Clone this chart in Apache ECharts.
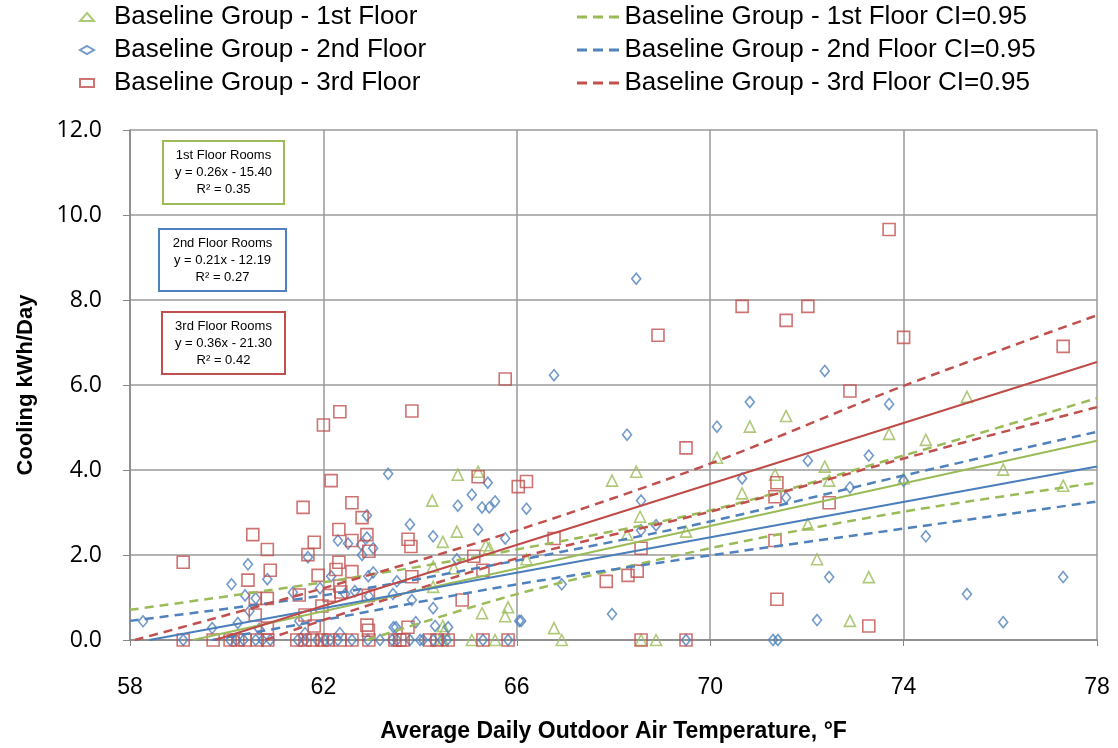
<!DOCTYPE html>
<html>
<head>
<meta charset="utf-8">
<title>Cooling vs outdoor temperature</title>
<script src="https://cdn.jsdelivr.net/npm/echarts@6/dist/echarts.min.js"></script>
<style>
  html, body { margin: 0; padding: 0; background: #fff; }
  #chart { width: 1118px; height: 748px; }
</style>
</head>
<body>
<div id="chart"></div>
<script>
// 1st floor points (temperature F, kWh/day)
var floor1Temp = [64.25, 64.78, 65.2, 64.76, 64.47, 65.36, 65.43, 64.27, 64.7, 64.27, 65.82, 65.28, 65.76, 64.47, 64.5,
  64.47, 65.07, 65.55, 67.97, 68.47, 68.55, 68.28, 69.5, 66.2, 66.77, 66.93, 68.57, 68.88,
  70.14, 70.82, 71.57, 70.66, 71.34, 72.37, 72.46, 72.02, 72.21, 73.28, 72.89, 73.7,
  75.31, 74.46, 74.0, 76.06, 77.3];
var floor1Kwh = [3.28, 3.89, 3.96, 2.55, 2.31, 2.23, 2.16, 1.73, 1.69, 1.25, 0.77, 0.63, 0.56, 0.33, 0.23,
  0, 0, 0, 3.75, 3.96, 2.9, 2.48, 2.55, 1.9, 0.28, 0, 0, 0,
  4.29, 5.02, 5.27, 3.45, 3.89, 4.08, 3.75, 2.72, 1.9, 1.48, 0.45, 4.85,
  5.72, 4.71, 3.8, 4.01, 3.63];

// 2nd floor points
var floor2Temp = [58.27, 59.1, 59.7, 60.1, 60.44, 60.38, 60.23, 60.6, 60.47, 60.84, 60.67, 61.37, 61.5, 61.68, 61.93, 61.62,
  63.34, 62.9, 63.79, 62.3, 62.51, 62.78, 62.9, 63.03, 62.8, 65.07, 65.4, 65.28, 65.43, 65.55, 64.78, 64.27,
  65.2, 65.76, 64.76, 63.03, 62.93, 62.16, 63.52, 62.65, 62.45, 62.94, 63.44, 63.83, 64.27, 63.91, 64.31,
  64.58, 63.45, 63.5, 62.34, 66.05, 68.47, 66.77, 68.28, 68.57, 66.2, 68.57, 68.88, 66.93, 67.97, 66.09, 69.5,
  72.37, 70.82, 70.14, 73.7, 72.02, 73.28, 70.66, 71.57, 72.89, 72.46, 72.21, 71.3, 71.4,
  74.0, 74.46, 75.31, 76.06, 77.3,
  60.07, 60.2, 60.35, 60.6, 60.74, 60.9, 61.47, 61.62, 61.87, 62.03, 62.14, 62.3, 62.59, 62.92, 63.17,
  63.42, 63.52, 63.79, 64.0, 64.06, 64.27, 64.45, 64.56, 65.3, 65.82];
var floor2Kwh = [0.44, 0, 0.28, 1.31, 1.78, 1.05, 0.4, 0.98, 0.68, 1.43, 0.26, 1.12, 0.45, 1.95, 1.22, 0.16,
  3.91, 2.93, 2.72, 2.34, 2.27, 2.25, 2.41, 2.16, 2.0, 3.42, 3.7, 3.12, 3.12, 3.26, 3.16, 2.44,
  2.6, 2.39, 1.9, 1.59, 1.5, 1.5, 1.38, 1.15, 1.08, 1.03, 1.08, 0.94, 0.75, 0.42, 0.33,
  0.3, 0.3, 0.3, 0.16, 0.45, 8.5, 6.23, 4.83, 3.28, 3.09, 2.58, 2.7, 1.31, 0.61, 0.45, 0,
  6.33, 5.6, 5.02, 5.55, 4.22, 4.34, 3.8, 3.35, 3.59, 1.48, 0.47, 0, 0,
  3.75, 2.44, 1.08, 0.42, 1.48,
  0, 0, 0, 0, 0, 0, 0, 0, 0, 0, 0, 0, 0, 0, 0,
  0, 0, 0, 0, 0, 0, 0, 0, 0, 0];

// 3rd floor points
var floor3Temp = [59.1, 60.54, 60.84, 60.44, 60.9, 60.59, 60.84, 60.59, 60.84, 61.58, 61.81, 61.68, 61.89, 61.5, 61.62,
  61.81, 62.0, 62.34, 63.83, 62.16, 62.59, 62.8, 62.32, 62.59, 62.9, 62.94, 63.75, 63.81, 62.32, 62.26,
  62.59, 63.83, 62.34, 62.36, 62.12, 62.93, 61.97, 64.87, 65.3, 65.11, 65.2, 66.03, 66.2, 62.9, 62.93,
  63.75, 65.76, 68.92, 69.5, 66.77, 68.57, 68.49, 68.3, 67.85, 73.7, 70.66, 72.02, 71.57, 72.89, 71.38,
  71.34, 72.46, 71.34, 71.38, 73.28, 74.0, 77.3,
  59.1, 59.72, 60.07, 60.23, 60.38, 60.63, 60.85, 61.45, 61.62, 61.78, 61.97, 62.1, 62.34, 62.59, 62.94,
  63.48, 63.58, 63.65, 64.2, 64.35, 64.58, 65.3, 65.82, 68.57, 69.5];
var floor3Kwh = [1.83, 2.48, 2.13, 1.41, 1.64, 0.98, 0.98, 0.59, 0.28, 3.12, 2.3, 2.01, 1.52, 1.06, 0.59,
  0.33, 5.06, 5.37, 5.39, 3.75, 3.23, 2.88, 2.6, 2.34, 2.48, 2.09, 2.37, 2.2, 1.83, 1.66,
  1.61, 1.49, 1.27, 1.13, 1.05, 1.05, 0.8, 0.94, 1.64, 1.97, 3.84, 3.61, 3.73, 0.35, 0.23,
  0.3, 6.14, 7.17, 4.52, 2.39, 2.16, 1.62, 1.52, 1.38, 9.66, 7.85, 7.85, 7.52, 5.86, 3.7,
  3.37, 3.23, 2.34, 0.96, 0.33, 7.12, 6.91,
  0, 0, 0, 0, 0, 0, 0, 0, 0, 0, 0, 0, 0, 0, 0,
  0, 0, 0, 0, 0, 0, 0, 0, 0, 0];

// trend lines (end points)
var fit1Temp = [59.3, 78], fit1Kwh = [0, 4.69];
var fit2Temp = [58.4, 78], fit2Kwh = [0, 4.08];
var fit3Temp = [59.76, 78], fit3Kwh = [0, 6.54];

// confidence bands
var ci1UpTemp = [58, 62, 66, 70, 74, 78], ci1UpKwh = [0.71, 1.36, 2.13, 3.05, 4.34, 5.69];
var ci1LoTemp = [62.9, 66, 70, 74, 78], ci1LoKwh = [0, 1.08, 2.16, 3.02, 3.7];
var ci2UpTemp = [58, 62, 66, 70, 74, 78], ci2UpKwh = [0.45, 1.05, 1.87, 2.79, 3.87, 4.9];
var ci2LoTemp = [59.7, 62, 66, 70, 74, 78], ci2LoKwh = [0, 0.47, 1.31, 1.99, 2.62, 3.26];
var ci3UpTemp = [58.1, 62, 66, 70, 74, 78], ci3UpKwh = [0, 1.22, 2.58, 4.15, 5.98, 7.64];
var ci3LoTemp = [60.8, 62, 66, 70, 74, 78], ci3LoKwh = [0, 0.47, 1.92, 3.02, 4.27, 5.48];

var names = ['Baseline Group - 1st Floor', 'Baseline Group - 2nd Floor', 'Baseline Group - 3rd Floor'];
var ciNames = ['Baseline Group - 1st Floor CI=0.95', 'Baseline Group - 2nd Floor CI=0.95', 'Baseline Group - 3rd Floor CI=0.95'];

var GREEN = '#9BBB59', BLUE = '#4F81BD', RED = '#C0504D';
var FONT = "'Liberation Sans', sans-serif";
// three short dashes for the CI legend keys
var DASH_ICON = 'path://M0,0h10v3h-10z M16,0h10v3h-10z M32,0h10v3h-10z';

function pairs(xs, ys) {
  return xs.map(function (x, i) { return [x, ys[i]]; });
}

function scatter(name, xs, ys, symbol, size, color) {
  return {
    name: name, type: 'scatter', symbol: symbol, symbolSize: size,
    data: pairs(xs, ys),
    itemStyle: { color: 'rgba(0,0,0,0)', borderColor: color, borderWidth: 1.6 },
    z: 3
  };
}

function line(name, xs, ys, color, dashed) {
  return {
    name: name, type: 'line', symbol: 'none', smooth: dashed ? 0.3 : false,
    data: pairs(xs, ys),
    lineStyle: { color: color, width: dashed ? 2.5 : 2, type: dashed ? [9, 6] : 'solid' },
    itemStyle: { color: color },
    z: 4
  };
}

function noteBox(x, y, w, h, color, text) {
  return {
    type: 'group', left: x, top: y, z: 10,
    children: [
      { type: 'rect', shape: { x: 0, y: 0, width: w, height: h },
        style: { fill: '#fff', stroke: color, lineWidth: 2 } },
      { type: 'text', x: w / 2, y: 6,
        style: { text: text, font: "13px 'Liberation Sans', sans-serif", fill: '#000',
          align: 'center', verticalAlign: 'top', lineHeight: 17 } }
    ]
  };
}

var myChart = echarts.init(document.getElementById('chart'), null, { renderer: 'canvas' });

var option = {
  animation: false,
  backgroundColor: '#fff',
  textStyle: { fontFamily: FONT },
  legend: [
    {
      data: names, orient: 'vertical', left: 79, top: 4, itemGap: 7, padding: 0,
      itemWidth: 14, itemHeight: 8,
      textStyle: { fontSize: 26, fontFamily: FONT, color: '#000', padding: [0, 0, 0, 15] }
    },
    {
      data: ciNames.map(function (n) { return { name: n, icon: DASH_ICON }; }),
      orient: 'vertical', left: 577, top: 4, itemGap: 7, padding: 0,
      itemWidth: 43, itemHeight: 3,
      textStyle: { fontSize: 26, fontFamily: FONT, color: '#000' }
    }
  ],
  grid: { left: 130, right: 21, top: 130, bottom: 106, containLabel: false },
  xAxis: {
    type: 'value', min: 58, max: 78, interval: 4,
    name: 'Average Daily Outdoor Air Temperature, °F',
    nameLocation: 'middle', nameGap: 80,
    nameTextStyle: { fontSize: 23, fontWeight: 'bold', color: '#000', fontFamily: FONT },
    axisLine: { show: true, lineStyle: { color: '#868686', width: 1.5 } },
    axisTick: { show: true, length: 6, lineStyle: { color: '#868686' } },
    axisLabel: { fontSize: 23, color: '#000', margin: 36, fontFamily: FONT },
    splitLine: { show: true, lineStyle: { color: '#9A9A9A', width: 1.5 } }
  },
  yAxis: {
    type: 'value', min: 0, max: 12, interval: 2,
    name: 'Cooling kWh/Day',
    nameLocation: 'middle', nameGap: 93,
    nameTextStyle: { fontSize: 22, fontWeight: 'bold', color: '#000', fontFamily: FONT },
    axisLine: { show: true, lineStyle: { color: '#868686', width: 1.5 } },
    axisTick: { show: true, length: 7, lineStyle: { color: '#868686' } },
    axisLabel: { fontSize: 23, color: '#000', margin: 28, fontFamily: "'Open Sans', sans-serif",
      formatter: function (v) { return v.toFixed(1); } },
    splitLine: { show: true, lineStyle: { color: '#9A9A9A', width: 1.5 } }
  },
  graphic: [
    noteBox(162, 140, 121, 63, GREEN, '1st Floor Rooms\ny = 0.26x - 15.40\nR² = 0.35'),
    noteBox(158, 228, 127, 62, BLUE, '2nd Floor Rooms\ny = 0.21x - 12.19\nR² = 0.27'),
    noteBox(161, 311, 123, 62, RED, '3rd Floor Rooms\ny = 0.36x - 21.30\nR² = 0.42')
  ],
  series: [
    scatter(names[0], floor1Temp, floor1Kwh, 'triangle', 11, GREEN),
    scatter(names[1], floor2Temp, floor2Kwh, 'diamond', [9, 11], BLUE),
    scatter(names[2], floor3Temp, floor3Kwh, 'rect', 12, RED),
    line(ciNames[0], ci1UpTemp, ci1UpKwh, GREEN, true),
    line(ciNames[0], ci1LoTemp, ci1LoKwh, GREEN, true),
    line(ciNames[1], ci2UpTemp, ci2UpKwh, BLUE, true),
    line(ciNames[1], ci2LoTemp, ci2LoKwh, BLUE, true),
    line(ciNames[2], ci3UpTemp, ci3UpKwh, RED, true),
    line(ciNames[2], ci3LoTemp, ci3LoKwh, RED, true),
    line('fit1', fit1Temp, fit1Kwh, GREEN, false),
    line('fit2', fit2Temp, fit2Kwh, '#4A7EBB', false),
    line('fit3', fit3Temp, fit3Kwh, '#BE4B48', false)
  ]
};

myChart.setOption(option);
</script>
</body>
</html>
